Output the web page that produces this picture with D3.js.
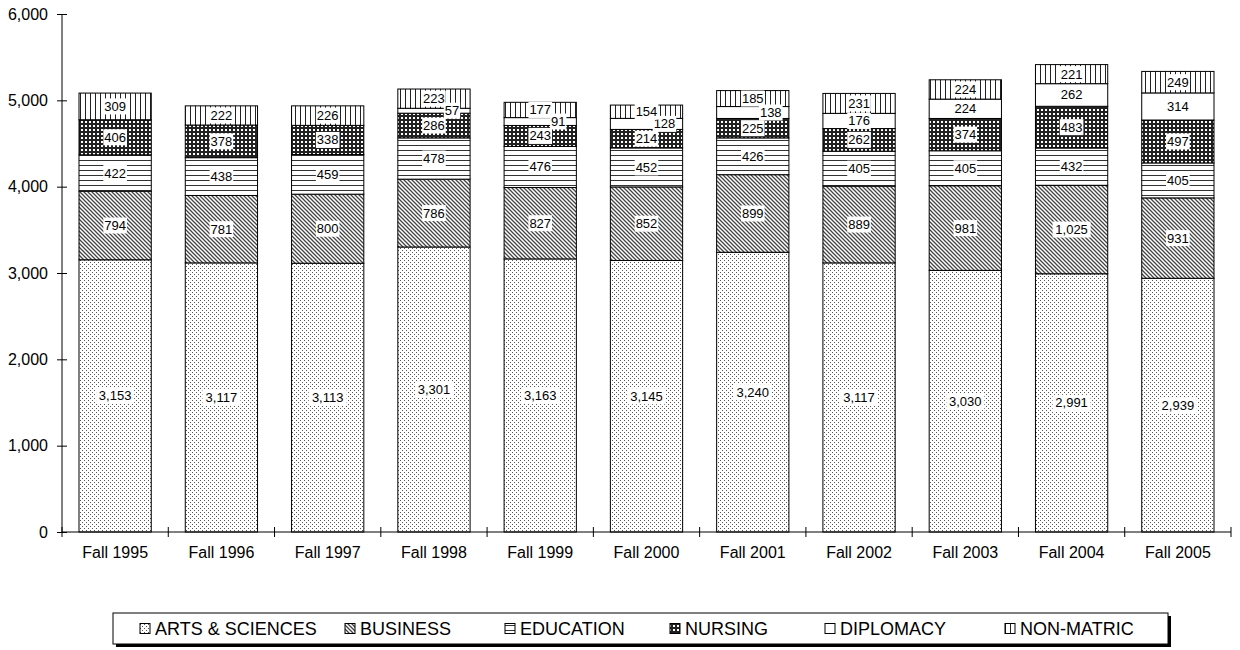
<!DOCTYPE html>
<html><head><meta charset="utf-8">
<script src="https://cdn.jsdelivr.net/npm/d3@7"></script>
<style>body{margin:0;background:#fff}svg{display:block}text{font-family:"Liberation Sans",Arial,sans-serif;fill:#000}</style>
</head><body><svg id="c" width="1240" height="650"></svg>
<script>
const categories=["Fall 1995","Fall 1996","Fall 1997","Fall 1998","Fall 1999","Fall 2000","Fall 2001","Fall 2002","Fall 2003","Fall 2004","Fall 2005"];
const artsSciences=[3153,3117,3113,3301,3163,3145,3240,3117,3030,2991,2939];
const business=[794,781,800,786,827,852,899,889,981,1025,931];
const education=[422,438,459,478,476,452,426,405,405,432,405];
const nursing=[406,378,338,286,243,214,225,262,374,483,497];
const diplomacy=[0,0,0,57,91,128,138,176,224,262,314];
const nonMatric=[309,222,226,223,177,154,185,231,224,221,249];
const seriesNames=["ARTS & SCIENCES","BUSINESS","EDUCATION","NURSING","DIPLOMACY","NON-MATRIC"];
const yTicks=[0,1000,2000,3000,4000,5000,6000];

const seriesValues=[artsSciences,business,education,nursing,diplomacy,nonMatric];
const keys=["s0","s1","s2","s3","s4","s5"];
const rows=categories.map((c,i)=>{const r={cat:c};keys.forEach((k,j)=>r[k]=seriesValues[j][i]);return r;});

const svg=d3.select("#c");
const defs=svg.append("defs");
function pat(id,w,h,draw){const p=defs.append("pattern").attr("id",id).attr("patternUnits","userSpaceOnUse").attr("width",w).attr("height",h);draw(p);}
pat("p0",4,4,p=>{p.append("rect").attr("width",4).attr("height",4).attr("fill","#fff");
  p.append("rect").attr("x",0).attr("y",0).attr("width",1).attr("height",1).attr("fill","#555");
  p.append("rect").attr("x",2).attr("y",2).attr("width",1).attr("height",1).attr("fill","#555");});
pat("p1",4,4,p=>{p.append("rect").attr("width",4).attr("height",4).attr("fill","#fff");
  p.append("path").attr("d","M-1,-1L5,5M-1,3L1,5M3,-1L5,1").attr("stroke","#444").attr("stroke-width",1.3);});
pat("p2",4,5,p=>{p.append("rect").attr("width",4).attr("height",5).attr("fill","#fff");
  p.append("rect").attr("x",0).attr("y",0).attr("width",4).attr("height",1).attr("fill","#333");});
pat("p3",4,4,p=>{p.append("rect").attr("width",4).attr("height",4).attr("fill","#222");
  p.append("rect").attr("x",1).attr("y",1).attr("width",2).attr("height",2).attr("fill","#fff");});
pat("p4",4,4,p=>{p.append("rect").attr("width",4).attr("height",4).attr("fill","#fff");});
pat("p5",5,4,p=>{p.append("rect").attr("width",5).attr("height",4).attr("fill","#fff");
  p.append("rect").attr("x",0).attr("y",0).attr("width",1).attr("height",4).attr("fill","#222");});

const x=d3.scaleBand().domain(categories).range([62,1231]).paddingInner(0.32).paddingOuter(0.16);
const y=d3.scaleLinear().domain([0,6000]).range([532,14]);

const stack=d3.stack().keys(keys)(rows);

const g=svg.append("g");
stack.forEach((s,si)=>{
  g.selectAll(null).data(s.filter(d=>d[1]-d[0]>0)).enter().append("rect")
    .attr("x",d=>x(d.data.cat)).attr("width",x.bandwidth())
    .attr("y",d=>y(d[1])).attr("height",d=>y(d[0])-y(d[1]))
    .attr("fill",`url(#p${si})`).attr("stroke","#000").attr("stroke-width",1);
});

// labels
const fmt=d3.format(",");
const lg=svg.append("g").attr("font-size",13);
stack.forEach((s,si)=>{
  s.forEach(d=>{
    const v=d[1]-d[0]; if(v<=0) return;
    let cx=x(d.data.cat)+x.bandwidth()/2;
    if(v<150) cx+=18;
    const cy=(y(d[0])+y(d[1]))/2;
    const t=fmt(v);
    const w=t.length*7.2+2;
    lg.append("rect").attr("x",cx-w/2).attr("y",cy-8).attr("width",w).attr("height",16).attr("fill","#fff");
    lg.append("text").attr("x",cx).attr("y",cy+4.5).attr("text-anchor","middle").text(t);
  });
});

// axes
const ya=svg.append("g").attr("transform","translate(62,0)")
  .call(d3.axisLeft(y).tickValues(yTicks).tickFormat(fmt).tickSizeInner(5).tickSizeOuter(0).tickPadding(9));
ya.select(".domain").attr("d","M0,14V532").attr("stroke","#000");
ya.selectAll(".tick line").attr("x1",-5).attr("x2",5).attr("stroke","#000");
ya.selectAll("text").attr("font-size",16).attr("font-family","Liberation Sans, Arial, sans-serif");

const xa=svg.append("g").attr("transform","translate(0,532)")
  .call(d3.axisBottom(x).tickSize(0).tickPadding(15));
xa.select(".domain").attr("d","M62,0H1231").attr("stroke","#000");
xa.selectAll("text").attr("font-size",16).attr("font-family","Liberation Sans, Arial, sans-serif");
const step=x.step();
const bounds=d3.range(categories.length+1).map(i=>62+i*step);
svg.append("g").selectAll("line").data(bounds).enter().append("line")
  .attr("x1",d=>d).attr("x2",d=>d).attr("y1",527).attr("y2",537).attr("stroke","#000");

// legend
const L={x:113,y:613,w:1055,h:31};
svg.append("rect").attr("x",L.x+3).attr("y",L.y+3).attr("width",L.w).attr("height",L.h).attr("fill","#000");
svg.append("rect").attr("x",L.x).attr("y",L.y).attr("width",L.w).attr("height",L.h).attr("fill","#fff").attr("stroke","#000");
const legX=[140,345,505,670,825,1005];
const leg=svg.append("g");
seriesNames.forEach((n,i)=>{
  leg.append("rect").attr("x",legX[i]).attr("y",L.y+10.5).attr("width",10).attr("height",10)
    .attr("fill",`url(#p${i})`).attr("stroke","#000");
  leg.append("text").attr("x",legX[i]+15).attr("y",L.y+22).attr("font-size",18).text(n);
});
</script></body></html>
